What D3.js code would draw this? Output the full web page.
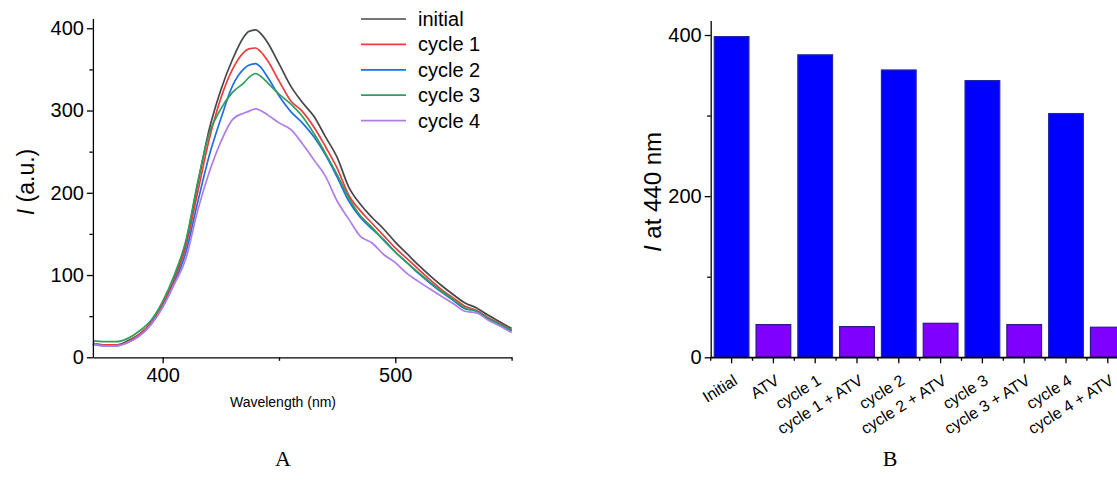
<!DOCTYPE html>
<html><head><meta charset="utf-8">
<script src="https://cdn.jsdelivr.net/npm/d3@7/dist/d3.min.js"></script>
<style>
html,body{margin:0;padding:0;background:#fff;}
svg{display:block;font-family:Arial,"Liberation Sans",sans-serif;}
</style></head>
<body>
<svg id="c" width="1117" height="485"></svg>
<script>
// ---------- Data: panel A (emission spectra) ----------
const wavelengths = [370,375,380,385,390,395,400,405,410,415,420,425,430,435,437,440,442,445,450,455,460,465,470,475,480,485,490,495,500,505,510,515,520,525,530,535,540,545,550];
const initial = [17,15,15,20,28,42,65,95,140,210,277,325,362,390,396,398,394,383,357,330,310,293,268,243,207,186,170,156,140,126,112,99,87,76,66,60,51,43,35];
const cycle1  = [17,15,15,19,28,42,64,94,135,200,265,315,350,371,375,376,372,361,336,312,299,280,256,230,197,178,163,148,133,120,107,94,82,72,62,57,48,41,33];
const cycle2  = [16,14,14,18,26,40,61,90,128,188,245,290,330,351,355,357,353,341,318,299,285,268,246,219,190,170,156,143,128,115,102,90,79,69,59,56,47,40,32];
const cycle3  = [20,19,19,23,32,45,68,100,142,212,272,302,322,334,340,345,342,334,320,308,293,272,248,222,194,172,158,142,128,115,103,91,80,70,60,56,47,40,33];
const cycle4  = [16,14,14,18,26,40,61,89,120,178,225,262,289,297,299,302,300,295,285,277,260,240,220,190,168,147,139,125,115,102,92,83,74,65,56,54,45,38,30];
const seriesNames = ["initial","cycle 1","cycle 2","cycle 3","cycle 4"];
const seriesColors = ["#474747","#ee3b3b","#1f6fe2","#2f9e5c","#b07ce6"];
const seriesValues = [initial,cycle1,cycle2,cycle3,cycle4];
const ticksA_x = [400,500];
const ticksA_y = [0,100,200,300,400];

// ---------- Data: panel B (bar chart) ----------
const barCategories = ["Initial","ATV","cycle 1","cycle 1 + ATV","cycle 2","cycle 2 + ATV","cycle 3","cycle 3 + ATV","cycle 4","cycle 4 + ATV"];
const barValues = [398,40.6,375.4,38.1,356.6,42.2,343.4,40.6,302.5,37.3];
const barGroup = ["sample","atv","sample","atv","sample","atv","sample","atv","sample","atv"];
const ticksB_y = [0,200,400];

const svg = d3.select("#c");

// ================= Panel A =================
const xA = d3.scaleLinear().domain([370,550]).range([92.9,511.6]);
const yA = d3.scaleLinear().domain([0,412]).range([357.3,18.4]);
const gA = svg.append("g");

const line = d3.line().x(d=>xA(d[0])).y(d=>yA(d[1])).curve(d3.curveMonotoneX);
seriesValues.forEach((vals,i)=>{
  gA.append("path")
    .datum(wavelengths.map((w,j)=>[w,vals[j]]))
    .attr("fill","none").attr("stroke",seriesColors[i]).attr("stroke-width",1.7)
    .attr("stroke-linejoin","round").attr("d",line);
});

// axes A
gA.append("g").attr("transform",`translate(0,${yA(0)})`)
  .call(d3.axisBottom(xA).tickValues(ticksA_x).tickSize(6).tickPadding(5).tickSizeOuter(0));
gA.append("g").attr("transform",`translate(0,${yA(0)})`)
  .call(d3.axisBottom(xA).tickValues([450,550]).tickSize(3.5).tickFormat("").tickSizeOuter(0))
  .select(".domain").remove();
gA.append("g").attr("transform",`translate(${xA(370)},0)`)
  .call(d3.axisLeft(yA).tickValues(ticksA_y).tickSize(6).tickPadding(3).tickSizeOuter(0));
gA.append("g").attr("transform",`translate(${xA(370)},0)`)
  .call(d3.axisLeft(yA).tickValues([50,150,250,350]).tickSize(3.5).tickFormat("").tickSizeOuter(0))
  .select(".domain").remove();
gA.selectAll(".tick text").attr("font-size",20).attr("fill","#000").attr("font-family","Arial, 'Liberation Sans', sans-serif");
gA.selectAll(".domain, .tick line").attr("stroke","#000").attr("stroke-width",1.3);

gA.append("text").attr("x",283).attr("y",407).attr("text-anchor","middle")
  .attr("font-size",14).text("Wavelength (nm)");
gA.append("text").attr("transform","translate(34,182) rotate(-90)").attr("text-anchor","middle")
  .attr("font-size",23)
  .call(t=>{t.append("tspan").attr("font-style","italic").text("I");t.append("tspan").text(" (a.u.)");});

// legend A
const leg = gA.append("g");
seriesNames.forEach((n,i)=>{
  const yy = 19 + i*25.4;
  leg.append("line").attr("x1",361).attr("x2",406).attr("y1",yy).attr("y2",yy)
    .attr("stroke",seriesColors[i]).attr("stroke-width",1.7);
  leg.append("text").attr("x",418).attr("y",yy+7).attr("font-size",20).text(n);
});

gA.append("text").attr("x",283).attr("y",466).attr("text-anchor","middle")
  .attr("font-family","'Liberation Serif','Times New Roman',serif").attr("font-size",22).text("A");

// ================= Panel B =================
const xB = d3.scaleBand().domain(barCategories).range([710.7,1128.7]).paddingInner(0.17).paddingOuter(0.085);
const yB = d3.scaleLinear().domain([0,418]).range([357.3,20.5]);
const gB = svg.append("g");

gB.selectAll("rect.bar").data(barCategories).enter().append("rect")
  .attr("class","bar")
  .attr("x",d=>xB(d)).attr("width",xB.bandwidth())
  .attr("y",(d,i)=>yB(barValues[i])).attr("height",(d,i)=>yB(0)-yB(barValues[i]))
  .attr("fill",(d,i)=>barGroup[i]==="sample"?"#0000ff":"#7f00ff")
  .attr("stroke",(d,i)=>barGroup[i]==="sample"?"#2424a8":"#2a1890").attr("stroke-width",1.2);

const bx = gB.append("g").attr("transform",`translate(0,${yB(0)})`)
  .call(d3.axisBottom(xB).tickSize(6).tickSizeOuter(0));
bx.selectAll(".tick text").attr("font-size",16).attr("text-anchor","end")
  .attr("transform","translate(7,26) rotate(-32)").attr("dy",0).attr("y",0).attr("x",0);
// minor ticks at band boundaries
const step = xB.step();
const boundaries = barCategories.map(c=>xB(c)+xB.bandwidth()/2 - step/2);
gB.append("g").selectAll("line").data(boundaries).enter().append("line")
  .attr("x1",d=>d).attr("x2",d=>d).attr("y1",yB(0)).attr("y2",yB(0)+3.5);
gB.append("line").attr("x1",710.7).attr("x2",1128.7).attr("y1",yB(0)).attr("y2",yB(0));

gB.append("g").attr("transform",`translate(710.7,0)`)
  .call(d3.axisLeft(yB).tickValues(ticksB_y).tickSize(6).tickPadding(3).tickSizeOuter(0))
  .selectAll(".tick text").attr("font-size",20);
gB.append("g").attr("transform",`translate(710.7,0)`)
  .call(d3.axisLeft(yB).tickValues([100,300]).tickSize(3.5).tickFormat("").tickSizeOuter(0))
  .select(".domain").remove();
gB.selectAll(".tick text").attr("fill","#000").attr("font-family","Arial, 'Liberation Sans', sans-serif");
gB.selectAll(".domain, .tick line, g > line").attr("stroke","#000").attr("stroke-width",1.3);

gB.append("text").attr("transform","translate(661,192) rotate(-90)").attr("text-anchor","middle")
  .attr("font-size",24)
  .call(t=>{t.append("tspan").attr("font-style","italic").text("I");t.append("tspan").text(" at 440 nm");});

gB.append("text").attr("x",890).attr("y",466).attr("text-anchor","middle")
  .attr("font-family","'Liberation Serif','Times New Roman',serif").attr("font-size",22).text("B");
</script>
</body></html>
